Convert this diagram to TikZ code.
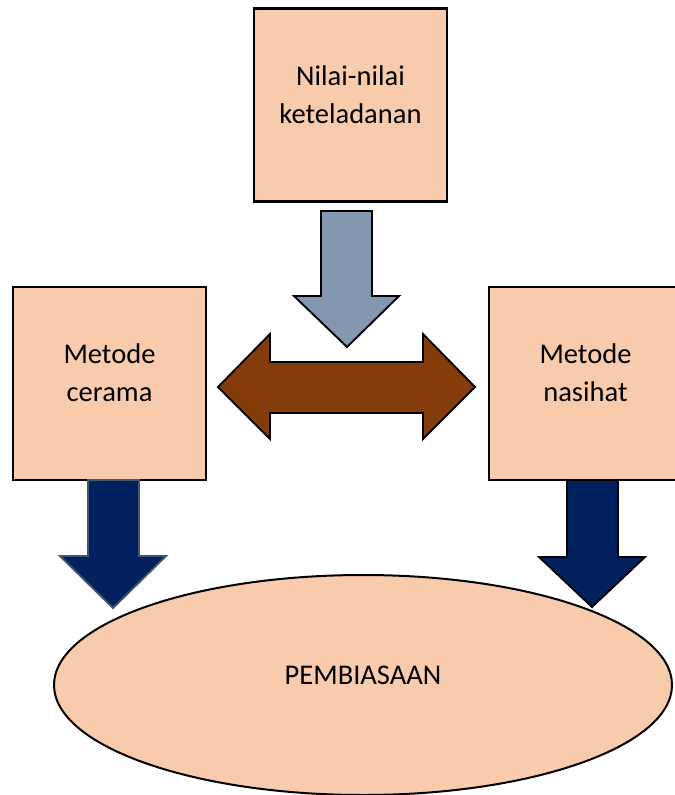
\documentclass[tikz,border=0pt]{standalone}
\usepackage{fontspec}
\setmainfont{Carlito}
\usetikzlibrary{shapes}
\usetikzlibrary{calc}

\definecolor{boxfill}{HTML}{F8CBAD}
\definecolor{grayblue}{HTML}{8497B0}
\definecolor{brownfill}{HTML}{843C0C}
\definecolor{arrownavy}{HTML}{002060}
\definecolor{navyline}{HTML}{44546A}

\tikzset{
    box/.style={draw, line width=1.6pt, fill=boxfill, minimum width=144.75pt, minimum height=144.75pt, inner sep=0pt},
    lbl/.style={align=center, font=\fontsize{21.4}{28.5}\selectfont},
    blockarrow/.style={draw, line width=1.4pt, line join=miter},
}

\begin{document}
\begin{tikzpicture}[x=0.75pt, y=-0.75pt]
    \useasboundingbox (0,0) rectangle (674,795);

    \node[box] (nilai) at (350.5,105) {};
    \node[box] (cerama) at (109.5,383.5) {};
    \node[box] (nasihat) at (585.5,383.5) {};
    \node[draw, ellipse, line width=1.5pt, fill=boxfill, minimum width=463.5pt,
        minimum height=165pt, inner sep=0pt] (pembiasaan) at (363,685) {};

    \node[lbl] (nilaitxt) at ([yshift=8pt]nilai.center) {Nilai-nilai\\keteladanan};
    \node[lbl] (ceramatxt) at ([yshift=8pt]cerama.center) {Metode\\cerama};
    \node[lbl] (nasihattxt) at ([yshift=8pt]nasihat.center) {Metode\\nasihat};
    \node[lbl] (pembtxt) at ([yshift=7pt]pembiasaan.center) {PEMBIASAAN};

    % block arrows
    \draw[blockarrow, fill=grayblue] (321,211) -- (372,211) -- (372,296) -- (399,296)
        -- (347,347) -- (294,296) -- (321,296) -- cycle;
    \draw[blockarrow, fill=brownfill] (218,387) -- (270,334) -- (270,362) -- (423,362)
        -- (423,334) -- (475,387) -- (423,439) -- (423,413) -- (270,413) -- (270,439) -- cycle;
    \draw[blockarrow, fill=arrownavy, draw=navyline] (88,480) -- (139,480) -- (139,556) -- (166,556)
        -- (113,608) -- (60,556) -- (88,556) -- cycle;
    \draw[blockarrow, fill=arrownavy] (567,480) -- (618,480) -- (618,557) -- (645,557)
        -- (592,607) -- (539,557) -- (567,557) -- cycle;
\end{tikzpicture}
\end{document}
